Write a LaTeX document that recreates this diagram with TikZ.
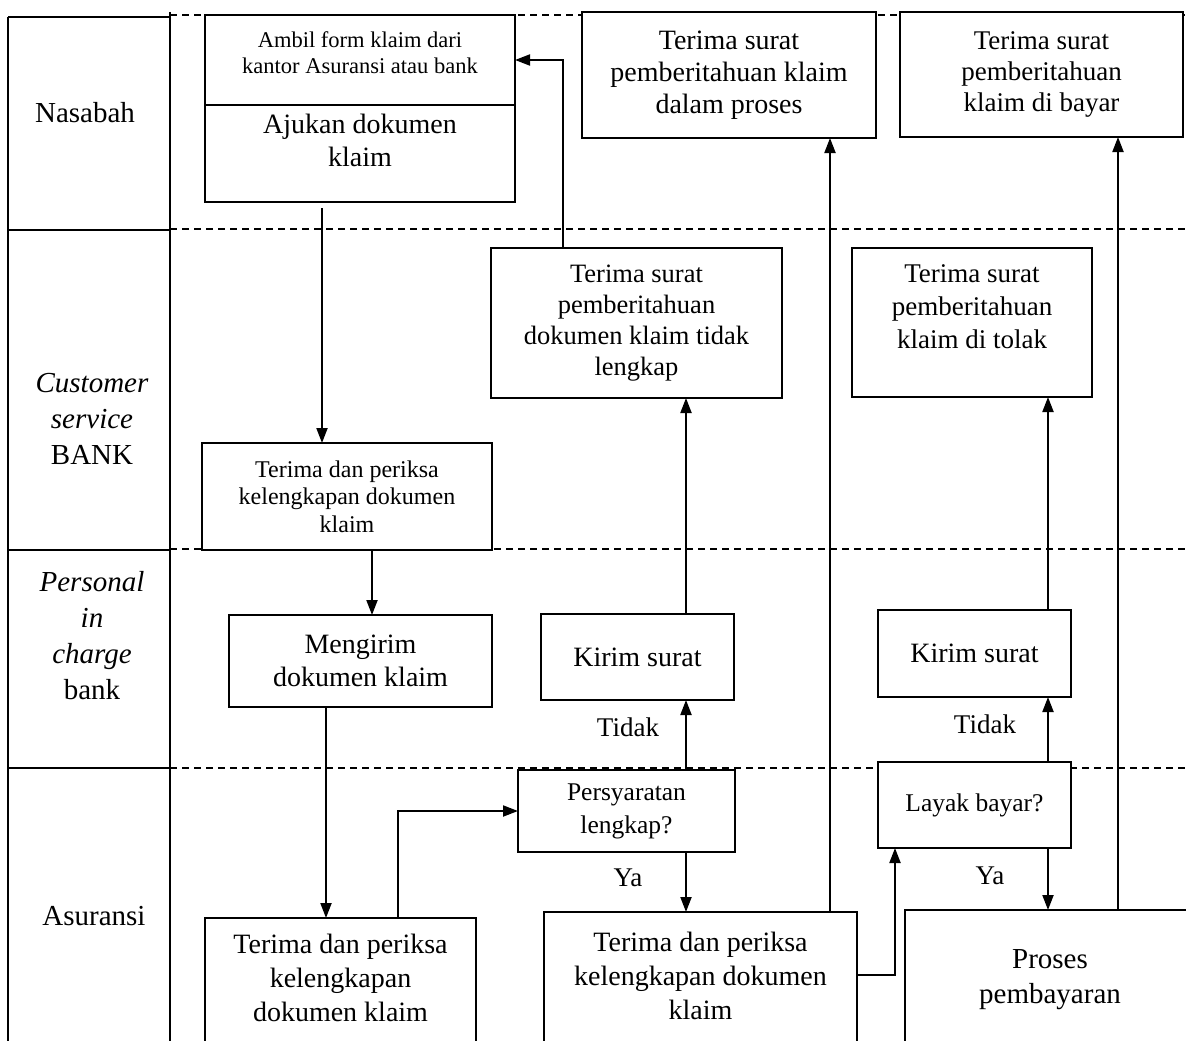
\documentclass[tikz,border=0pt]{standalone}
\usepackage{fontspec}
\setmainfont{Liberation Serif}
\usetikzlibrary{arrows.meta}
\begin{document}
\begin{tikzpicture}[x=1pt,y=-1pt,
  bx/.style={draw, line width=2.2pt, inner sep=0pt, outer sep=0pt, align=center, fill=white},
  txt/.style={align=center, inner sep=0pt},
  arr/.style={line width=2pt, -{Triangle[length=15pt,width=11pt]}},
  lanel/.style={line width=2.2pt},
  sepl/.style={line width=2.6pt, dash pattern=on 7pt off 5pt},
  fbig/.style={font=\fontsize{28}{33}\selectfont},
  fmed/.style={font=\fontsize{26.5}{31}\selectfont},
  fsm/.style={font=\fontsize{24}{27.5}\selectfont},
  fxs/.style={font=\fontsize{22.5}{26}\selectfont},
  flane/.style={font=\fontsize{29}{36}\selectfont},
  fdec/.style={font=\fontsize{25.5}{33}\selectfont}
]
\useasboundingbox[fill=white] (0,0) rectangle (1186,1041);
\clip (0,0) rectangle (1186,1041);

% lane structure
\draw[lanel] (8,17) -- (8,1050);
\draw[lanel] (170,12) -- (170,1050);
\draw[lanel] (8,17) -- (170,17);
\draw[lanel] (8,230) -- (170,230);
\draw[lanel] (8,550) -- (170,550);
\draw[lanel] (8,768) -- (170,768);
\draw[sepl] (170,15) -- (1186,15);
\draw[sepl] (170,229) -- (1186,229);
\draw[sepl] (170,549) -- (1186,549);
\draw[sepl] (170,768) -- (1186,768);

% lane labels
\node[txt, flane] (lnas) at (85,113) {Nasabah};
\node[txt, flane] (lcs) at (92,419) {\itshape Customer\\\itshape service\\BANK};
\node[txt, flane] (lpic) at (92,636) {\itshape Personal\\\itshape in\\\itshape charge\\bank};
\node[txt, flane] (lasu) at (94,916) {Asuransi};

% boxes
\node[bx, minimum width=310, minimum height=90] (a1) at (360,60) {};
\node[bx, minimum width=310, minimum height=97] (a2) at (360,153.5) {};
\node[txt, fxs] (a1t) at (360,53) {Ambil form klaim dari\\kantor Asuransi atau bank};
\node[txt, fbig] (a2t) at (360,140) {Ajukan dokumen\\klaim};

\node[bx, font=\fontsize{28}{32}\selectfont, minimum width=294, minimum height=126] (nproses) at (729,75)
  {Terima surat\\pemberitahuan klaim\\dalam proses};
\node[bx, font=\fontsize{27}{31}\selectfont, minimum width=283, minimum height=125] (nbayar) at (1041.5,74.5)
  {Terima surat\\pemberitahuan\\klaim di bayar};

\node[bx, fmed, minimum width=291, minimum height=150] (cstidak) at (636.5,323)
  {Terima surat\\pemberitahuan\\dokumen klaim tidak\\lengkap};
\node[bx, minimum width=240, minimum height=149] (cstolak) at (972,322.5) {};
\node[txt, font=\fontsize{27}{33}\selectfont] (cstolakt) at (972,307)
  {Terima surat\\pemberitahuan\\klaim di tolak};

\node[bx, fsm, minimum width=290, minimum height=107] (csperiksa) at (347,496.5)
  {Terima dan periksa\\kelengkapan dokumen\\klaim};

\node[bx, fbig, minimum width=263, minimum height=92] (pkirim) at (360.5,661)
  {Mengirim\\dokumen klaim};
\node[bx, fbig, minimum width=193, minimum height=86] (pk1) at (637.5,657) {Kirim surat};
\node[bx, fbig, minimum width=193, minimum height=87] (pk2) at (974.5,653.5) {Kirim surat};

\node[bx, fdec, minimum width=217, minimum height=82] (syarat) at (626.5,811)
  {Persyaratan\\lengkap?};
\node[bx, fdec, minimum width=193, minimum height=86] (layak) at (974.5,805) {Layak bayar?};

\node[bx, minimum width=271, minimum height=142] (as1) at (340.5,989) {};
\node[txt, font=\fontsize{28}{34}\selectfont] (as1t) at (340.5,978)
  {Terima dan periksa\\kelengkapan\\dokumen klaim};
\node[bx, minimum width=313, minimum height=148] (as2) at (700.5,986) {};
\node[txt, font=\fontsize{28}{34}\selectfont] (as2t) at (700.5,976)
  {Terima dan periksa\\kelengkapan dokumen\\klaim};
\node[bx, minimum width=295, minimum height=150] (proses) at (1052.5,985) {};
\node[txt, font=\fontsize{29}{35}\selectfont] (prosest) at (1050,980)
  {Proses\\pembayaran};

% connectors
\draw[arr, shorten <=6pt] ([xshift=-38pt]a2.south) -- ([xshift=-38pt]a2.south |- csperiksa.north);
\draw[arr] ([xshift=25pt]csperiksa.south) -- ([xshift=25pt]csperiksa.south |- pkirim.north);
\draw[arr] ([xshift=-34.5pt]pkirim.south) -- ([xshift=-34.5pt]pkirim.south |- as1.north);
\draw[arr] ([xshift=57.5pt]as1.north) |- (syarat.west);
\draw[arr] ([xshift=59.5pt]syarat.south) -- ([xshift=59.5pt]syarat.south |- as2.north);
\draw[arr] ([xshift=59.5pt]syarat.north) -- ([xshift=59.5pt]syarat.north |- pk1.south);
\draw[arr] ([xshift=48.5pt]pk1.north) -- ([xshift=48.5pt]pk1.north |- cstidak.south);
\draw[arr] ([xshift=-73.5pt]cstidak.north) |- (a1.east);
\draw[arr] ([xshift=129.5pt]as2.north) -- ([xshift=129.5pt]as2.north |- nproses.south);
\draw[arr] ([yshift=11pt]as2.east) -| ([xshift=-79.5pt]layak.south);
\draw[arr] ([xshift=73.5pt]layak.south) -- ([xshift=73.5pt]layak.south |- proses.north);
\draw[arr] ([xshift=73.5pt]layak.north) -- ([xshift=73.5pt]layak.north |- pk2.south);
\draw[arr] ([xshift=73.5pt]pk2.north) -- ([xshift=73.5pt]pk2.north |- cstolak.south);
\draw[arr] ([xshift=65.5pt]proses.north) -- ([xshift=65.5pt]proses.north |- nbayar.south);

% branch labels
\node[txt, font=\fontsize{27}{32}\selectfont] (t1) at (628,727) {Tidak};
\node[txt, font=\fontsize{27}{32}\selectfont] (y1) at (628,878) {Ya};
\node[txt, font=\fontsize{27}{32}\selectfont] (t2) at (985,724) {Tidak};
\node[txt, font=\fontsize{27}{32}\selectfont] (y2) at (990,876) {Ya};
\end{tikzpicture}
\end{document}
